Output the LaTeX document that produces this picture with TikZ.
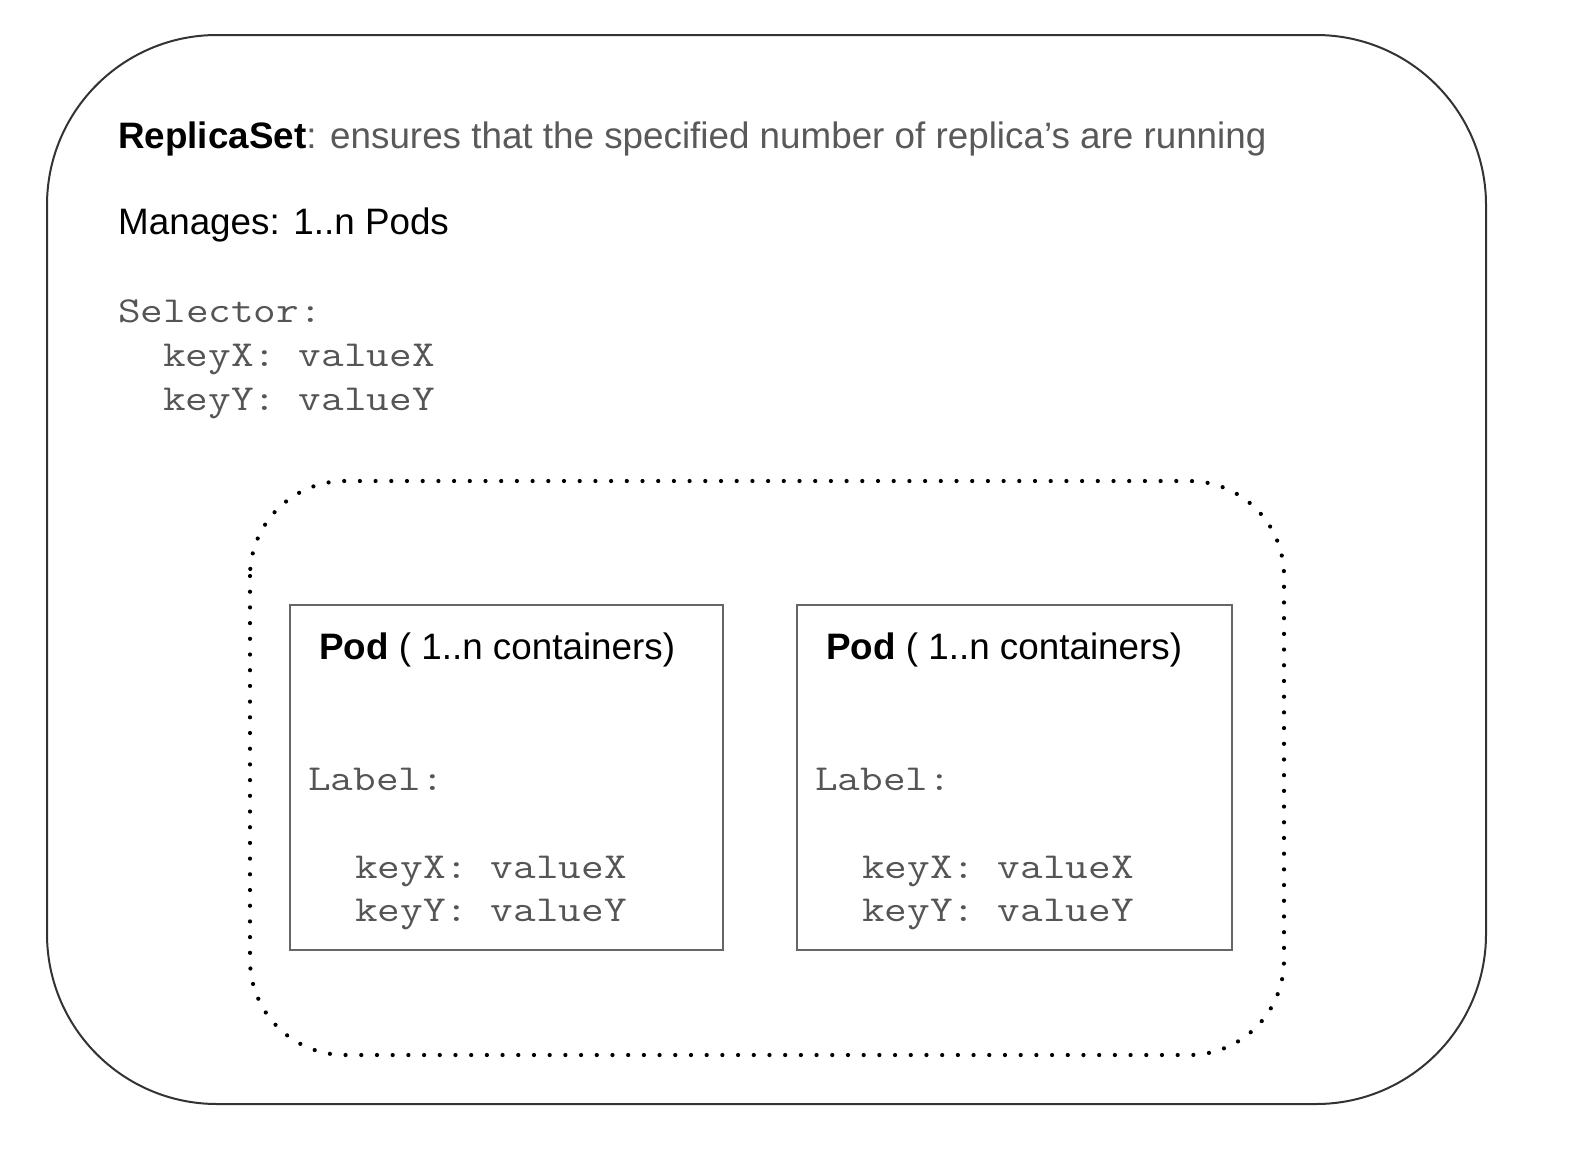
\documentclass[tikz,border=0pt]{standalone}
\usepackage{fontspec}
\setmainfont{Liberation Sans}
\newfontfamily\monofont{Latin Modern Mono}[FakeStretch=1.2]
\definecolor{txtgray}{HTML}{595959}
\definecolor{monogray}{HTML}{555555}
\definecolor{boxgray}{HTML}{666666}
\definecolor{outerline}{HTML}{333333}
\begin{document}
\begin{tikzpicture}[x=1pt,y=-1pt,
  sanstxt/.style={anchor=base west,inner sep=0pt,font=\fontsize{36.8}{42}\selectfont},
  monotxt/.style={anchor=base west,inner sep=0pt,text=monogray,font=\monofont\fontsize{36.6}{42}\selectfont},
  podbox/.style={draw=boxgray,line width=2pt}]
\useasboundingbox (0,0) rectangle (1584,1162);
\draw[outerline,line width=2pt,rounded corners=170pt] (47,35) rectangle (1486,1104);
\draw[black,line width=4.2pt,line cap=round,dash pattern=on 0pt off 15.7pt,rounded corners=95pt] (250,481) rectangle (1284,1055);
\node[sanstxt] (title) at (118,148) {\textbf{ReplicaSet}\textcolor{txtgray}{: ensures that the specified number of replica’s are running}};
\node[sanstxt] (manages) at (118,234) {Manages: 1..n Pods};
\node[monotxt] (sel) at (118,322) {Selector:};
\node[monotxt] (selx) at (163,366) {keyX: valueX};
\node[monotxt] (sely) at (163,410) {keyY: valueY};
\node[podbox,minimum width=433pt,minimum height=345pt,inner sep=0pt] (pod1) at (506.5,777.5) {};
\node[podbox,minimum width=435pt,minimum height=345pt,inner sep=0pt] (pod2) at (1014.5,777.5) {};
\node[sanstxt] (p1t) at (319,659) {\textbf{Pod} ( 1..n containers)};
\node[monotxt] (p1l) at (308,790) {Label:};
\node[monotxt] (p1x) at (355,878) {keyX: valueX};
\node[monotxt] (p1y) at (355,921) {keyY: valueY};
\node[sanstxt] (p2t) at (826,659) {\textbf{Pod} ( 1..n containers)};
\node[monotxt] (p2l) at (815,790) {Label:};
\node[monotxt] (p2x) at (862,878) {keyX: valueX};
\node[monotxt] (p2y) at (862,921) {keyY: valueY};
\end{tikzpicture}
\end{document}
